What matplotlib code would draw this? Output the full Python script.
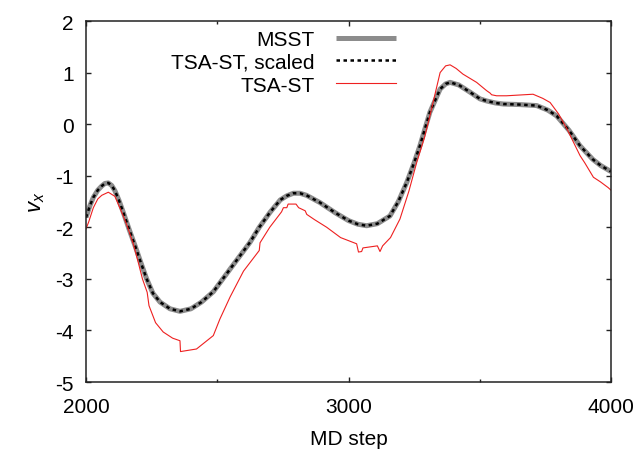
import numpy as np
import matplotlib
matplotlib.use('Agg')
import matplotlib.pyplot as plt
from matplotlib.ticker import MultipleLocator

plt.rcParams['font.family'] = ['Liberation Sans', 'DejaVu Sans']
plt.rcParams['mathtext.fontset'] = 'custom'
plt.rcParams['mathtext.it'] = 'Liberation Sans:italic'
plt.rcParams['mathtext.rm'] = 'Liberation Sans'
plt.rcParams['axes.unicode_minus'] = False

# MSST (and the scaled TSA-ST, which lies right on top of it)
msst_step = [2000, 2015, 2028, 2045, 2060, 2072, 2085, 2098, 2110, 2125, 2142,
             2165, 2187, 2210, 2231, 2255, 2282, 2320, 2358, 2400, 2440, 2485,
             2549, 2625, 2660, 2701, 2740, 2765, 2790, 2815, 2840, 2891, 2950,
             3000, 3035, 3069, 3110, 3158, 3190, 3222, 3250, 3272, 3310, 3349,
             3370, 3387, 3420, 3463, 3501, 3526, 3560, 3590, 3650, 3717, 3760,
             3793, 3840, 3882, 3930, 3960, 4000]
msst_vx = [-1.81, -1.58, -1.42, -1.28, -1.20, -1.15, -1.14, -1.19, -1.29, -1.47,
           -1.71, -2.05, -2.36, -2.70, -3.00, -3.28, -3.45, -3.58, -3.63, -3.58,
           -3.45, -3.25, -2.81, -2.29, -2.00, -1.71, -1.47, -1.39, -1.34, -1.34,
           -1.38, -1.52, -1.72, -1.87, -1.94, -1.97, -1.93, -1.78, -1.50, -1.13,
           -0.75, -0.42, 0.23, 0.68, 0.78, 0.81, 0.76, 0.62, 0.49, 0.45, 0.41,
           0.39, 0.38, 0.36, 0.27, 0.16, -0.12, -0.42, -0.68, -0.80, -0.92]
scaled_vx = list(msst_vx)

# TSA-ST raw
tsa_step = [2000, 2010, 2028, 2045, 2060, 2085, 2110, 2142, 2160, 2180, 2200,
            2215, 2233, 2240, 2265, 2294, 2330, 2358, 2360, 2421, 2485, 2510,
            2549, 2600, 2660, 2663, 2700, 2745, 2752, 2765, 2770, 2800, 2810,
            2835, 2841, 2870, 2917, 2970, 3031, 3038, 3050, 3055, 3110, 3120,
            3130, 3160, 3196, 3230, 3260, 3290, 3310, 3349, 3370, 3387, 3410,
            3436, 3488, 3526, 3540, 3545, 3564, 3602, 3703, 3740, 3768, 3800,
            3832, 3882, 3900, 3933, 3960, 3989, 4000]
tsa_vx = [-2.03, -1.90, -1.62, -1.45, -1.38, -1.32, -1.40, -1.78, -2.02, -2.32,
          -2.70, -3.00, -3.26, -3.52, -3.85, -4.03, -4.15, -4.20, -4.41, -4.36,
          -4.10, -3.78, -3.35, -2.85, -2.45, -2.30, -2.00, -1.70, -1.62, -1.62,
          -1.55, -1.55, -1.62, -1.68, -1.75, -1.85, -2.00, -2.20, -2.32, -2.48,
          -2.47, -2.40, -2.36, -2.47, -2.36, -2.20, -1.84, -1.30, -0.74, -0.25,
          0.16, 1.00, 1.13, 1.15, 1.08, 0.97, 0.81, 0.65, 0.60, 0.57, 0.55,
          0.55, 0.58, 0.50, 0.42, 0.20, -0.09, -0.61, -0.75, -1.03, -1.12,
          -1.23, -1.28]

fig = plt.figure(figsize=(6.39, 4.52), dpi=100)
ax = fig.add_axes([86 / 639, 1 - 383 / 452, 525 / 639, 361 / 452])

ax.plot(msst_step, msst_vx, color='#8c8c8c', lw=3.6, label='MSST',
        solid_capstyle='butt')
ax.plot(msst_step, scaled_vx, color='black', lw=1.8, ls=(0, (1.4, 1.4)),
        label='TSA-ST, scaled')
ax.plot(tsa_step, tsa_vx, color='#ee2020', lw=0.8, label='TSA-ST')

ax.set_xlim(2000, 4000)
ax.set_ylim(-5, 2)
ax.set_xticks([2000, 3000, 4000])
ax.xaxis.set_minor_locator(MultipleLocator(500))
ax.yaxis.set_major_locator(MultipleLocator(1))
ax.tick_params(which='both', direction='in', top=True, right=True,
               labelsize=15, color='#222222')
ax.tick_params(which='major', length=3.6, width=1)
ax.tick_params(which='minor', length=2.2, width=1)
ax.tick_params(axis='x', pad=11)
ax.tick_params(axis='y', pad=9)
for s in ax.spines.values():
    s.set_linewidth(1.1)
    s.set_color('#222222')

ax.set_xlabel('MD step', fontsize=15, labelpad=9)
ax.set_ylabel('$v_x$', fontsize=16, labelpad=6)

ax.legend(loc='upper right', bbox_to_anchor=(396 / 639, 1 - 31 / 452),
          bbox_transform=fig.transFigure, frameon=False, markerfirst=False,
          fontsize=15, handlelength=2.9, handletextpad=1.0,
          labelspacing=0.18, borderpad=0, borderaxespad=0)

fig.savefig('out.png', dpi=100)
